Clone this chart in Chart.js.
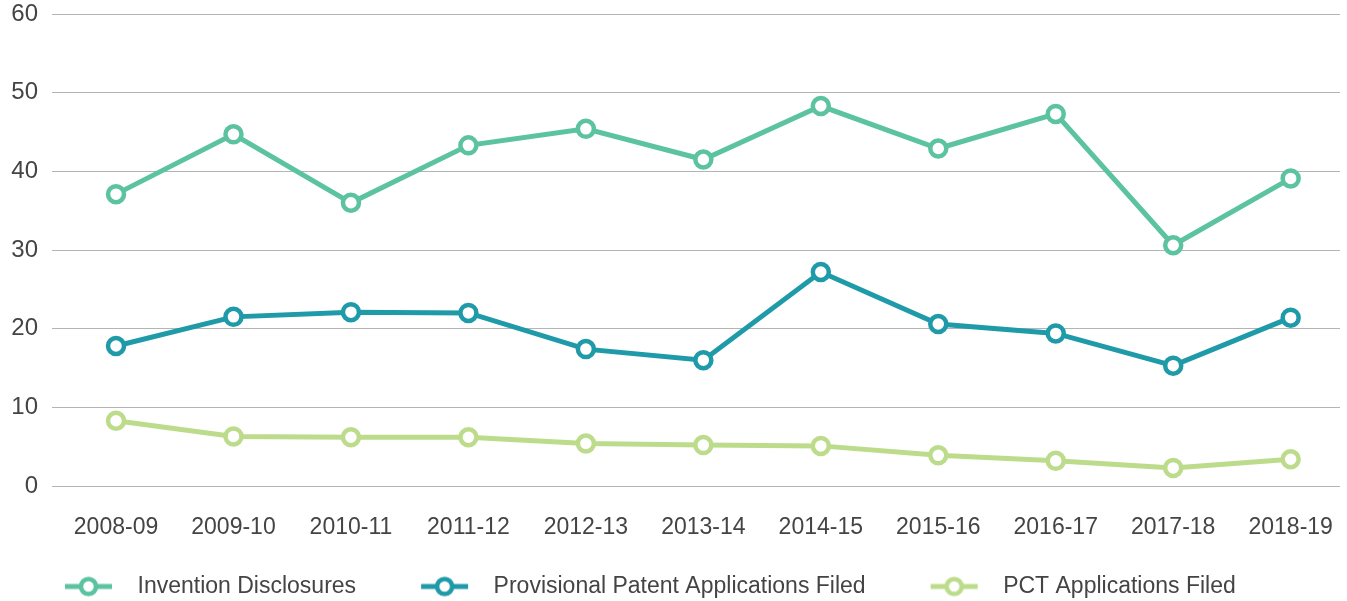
<!DOCTYPE html>
<html>
<head>
<meta charset="utf-8">
<script src="https://cdn.jsdelivr.net/npm/chart.js@4/dist/chart.umd.min.js"></script>
<style>
  html, body { margin: 0; padding: 0; background: #fff; }
  #wrap { width: 1347px; height: 601px; position: relative; }
</style>
</head>
<body>
<div id="wrap"><canvas id="chart"></canvas></div>
<script>
// data
const years = ['2008-09', '2009-10', '2010-11', '2011-12', '2012-13', '2013-14', '2014-15', '2015-16', '2016-17', '2017-18', '2018-19']
const inventionDisclosures = [37.1, 44.7, 36.0, 43.3, 45.4, 41.5, 48.3, 42.9, 47.3, 30.6, 39.1]
const provisionalFiled = [17.8, 21.5, 22.1, 22.0, 17.4, 16.0, 27.2, 20.6, 19.4, 15.3, 21.4]
const pctFiled = [8.3, 6.3, 6.2, 6.2, 5.4, 5.2, 5.1, 3.9, 3.2, 2.3, 3.4]
const yTicks = [0, 10, 20, 30, 40, 50, 60]

const seriesNames = ['Invention Disclosures', 'Provisional Patent Applications Filed', 'PCT Applications Filed']
const seriesColors = ['#5cc3a0', '#1f9aa8', '#bcdc8c']
const seriesData = [inventionDisclosures, provisionalFiled, pctFiled]

const fontFamily = "'Liberation Sans', Arial, Helvetica, sans-serif"
const textColor = '#444'

// legend marker: short line with a hollow circle on it
// the empty space on its left makes the gap between legend items
const markerGap = 61
function makeMarker(color) {
    const c = document.createElement('canvas')
    c.width = markerGap + 61
    c.height = 22
    const g = c.getContext('2d')
    g.strokeStyle = color
    g.lineWidth = 5
    g.beginPath()
    g.moveTo(markerGap, 11)
    g.lineTo(markerGap + 47, 11)
    g.stroke()
    g.beginPath()
    g.arc(markerGap + 23.5, 11, 7.5, 0, Math.PI * 2)
    g.fillStyle = '#fff'
    g.fill()
    g.lineWidth = 4.5
    g.stroke()
    return c
}

const markers = seriesColors.map(makeMarker)

const datasets = seriesNames.map((name, i) => ({
    label: name,
    data: seriesData[i].map((v, j) => ({x: j, y: v})),
    borderColor: seriesColors[i],
    backgroundColor: '#ffffff',
    borderWidth: 5,
    pointRadius: 8,
    pointHoverRadius: 8,
    pointBorderWidth: 4.5,
    pointBackgroundColor: '#ffffff',
    pointBorderColor: seriesColors[i],
    tension: 0
}))

new Chart(document.getElementById('chart'), {
    type: 'line',
    data: {datasets: datasets},
    options: {
        responsive: true,
        maintainAspectRatio: false,
        animation: false,
        layout: {
            autoPadding: false,
            // legend box keeps spare room under its text, pull it down a bit
            padding: {top: 14, right: 7, bottom: -7, left: 0}
        },
        scales: {
            x: {
                type: 'linear',
                min: -0.545,
                max: 10.42,
                grid: {display: false, drawTicks: false},
                border: {display: false},
                afterBuildTicks: (scale) => {
                    scale.ticks = years.map((_, i) => ({value: i}))
                },
                afterFit: (scale) => {
                    scale.height = 85
                    scale.paddingLeft = 0
                    scale.paddingRight = 0
                },
                ticks: {
                    callback: (v) => years[v],
                    color: textColor,
                    padding: 28,
                    maxRotation: 0,
                    autoSkip: false,
                    font: {family: fontFamily, size: 23}
                }
            },
            y: {
                min: 0,
                max: 60,
                afterBuildTicks: (scale) => {
                    scale.ticks = yTicks.map((v) => ({value: v}))
                },
                afterFit: (scale) => {
                    scale.width = 52
                    scale.paddingTop = 0
                    scale.paddingBottom = 0
                },
                grid: {color: '#b4b4b4', lineWidth: 1, drawTicks: false},
                border: {display: false},
                ticks: {
                    color: textColor,
                    padding: 14,
                    font: {family: fontFamily, size: 24}
                }
            }
        },
        plugins: {
            legend: {
                position: 'bottom',
                align: 'start',
                labels: {
                    usePointStyle: true,
                    pointStyleWidth: markerGap + 61,
                    padding: 4,
                    color: textColor,
                    font: {family: fontFamily, size: 23},
                    generateLabels: (chart) => chart.data.datasets.map((ds, i) => ({
                        text: ds.label,
                        pointStyle: markers[i],
                        fillStyle: '#fff',
                        strokeStyle: seriesColors[i],
                        lineWidth: 0,
                        hidden: false,
                        datasetIndex: i,
                        fontColor: textColor
                    }))
                }
            },
            tooltip: {enabled: false}
        }
    }
})
</script>
</body>
</html>
